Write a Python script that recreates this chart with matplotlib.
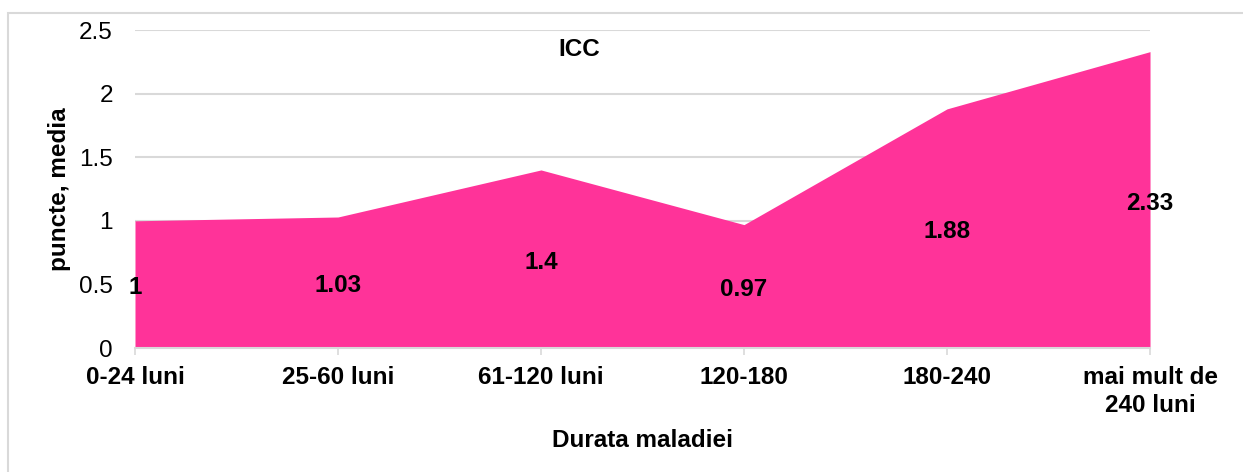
import matplotlib.pyplot as plt
from matplotlib.patches import Rectangle

categories = ['0-24 luni', '25-60 luni', '61-120 luni', '120-180', '180-240', 'mai mult de\n240 luni']
values = [1, 1.03, 1.4, 0.97, 1.88, 2.33]
labels = ['1', '1.03', '1.4', '0.97', '1.88', '2.33']

plt.rcParams['font.family'] = ['Liberation Sans', 'DejaVu Sans']
fs = 17.5

fig = plt.figure(figsize=(12.43, 4.72), dpi=100)
ax = fig.add_axes([0.1086, 0.2627, 0.8166, 0.6737])

x = list(range(len(categories)))
ax.fill_between(x, values, 0, color='#FF3399', linewidth=0, zorder=2)

for xi, v, lab in zip(x, values, labels):
    ax.annotate(lab, (xi, v / 2), xytext=(0, -2.5), textcoords='offset points',
                ha='center', va='center', fontsize=fs, fontweight='bold',
                color='black', zorder=3, annotation_clip=False)

ax.text(2.19, 2.35, 'ICC', ha='center', va='center', fontsize=fs, fontweight='bold')

ax.set_xlim(0, 5)
ax.set_ylim(0, 2.5)
ax.set_yticks([0, 0.5, 1, 1.5, 2, 2.5])
ax.set_yticklabels(['0', '0.5', '1', '1.5', '2', '2.5'])
ax.set_xticks(x)
ax.set_xticklabels(categories, fontweight='bold', linespacing=1.3)
ax.tick_params(axis='y', length=0, pad=16, labelsize=fs)
ax.tick_params(axis='x', length=5, width=1.2, color='#d9d9d9', pad=8, labelsize=fs)

ax.grid(axis='y', color='#d9d9d9', linewidth=1.5, zorder=0)
ax.set_axisbelow(True)
for s in ['top', 'right', 'left']:
    ax.spines[s].set_visible(False)
ax.spines['bottom'].set_color('#d9d9d9')
ax.spines['bottom'].set_linewidth(1.5)
ax.spines['bottom'].set_zorder(4)

ax.set_ylabel('puncte, media', fontsize=fs, fontweight='bold', labelpad=6)
ax.set_xlabel('Durata maladiei', fontsize=fs, fontweight='bold', labelpad=8)

fig.patches.append(Rectangle((8 / 1243, -0.5), 2, 1.5 - 13 / 472, transform=fig.transFigure,
                             fill=False, edgecolor='#d9d9d9', linewidth=1.5))

fig.savefig('out.png', dpi=100)
